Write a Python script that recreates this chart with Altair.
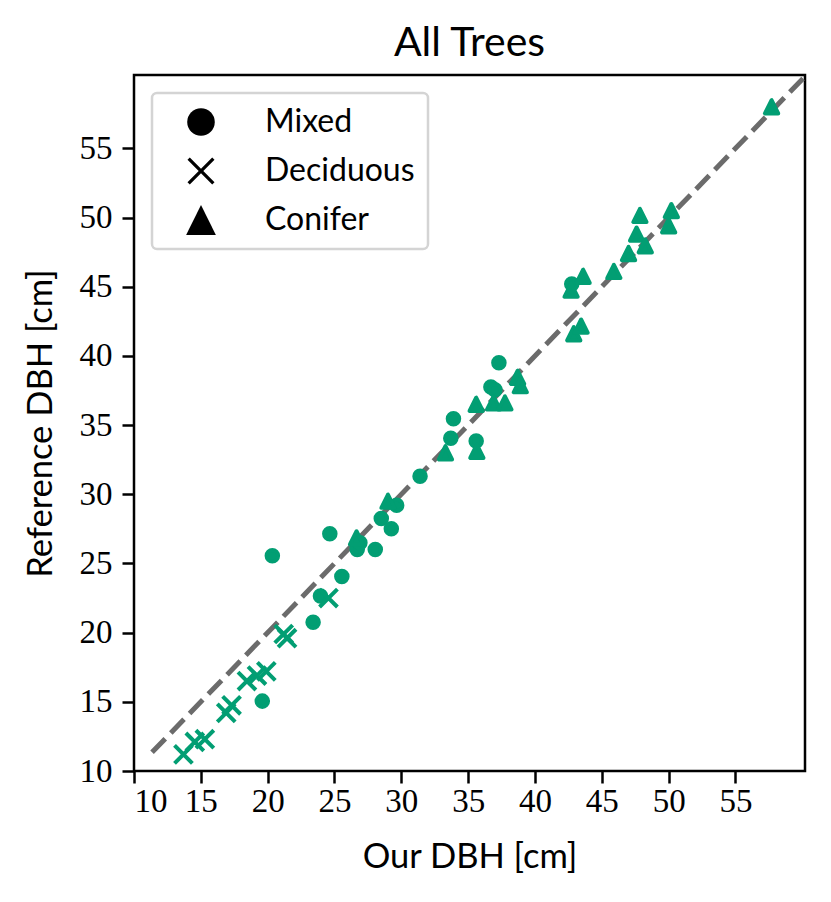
import altair as alt
import pandas as pd

# ---- data ----
mixed_x = [19.6, 20.35, 23.4, 23.95, 24.65, 25.55, 26.7, 26.9, 28.05, 28.5, 29.25, 29.65,
           31.4, 33.7, 33.9, 35.6, 36.7, 37.0, 37.3, 42.75]
mixed_y = [15.05, 25.55, 20.75, 22.65, 27.15, 24.05, 26.0, 26.5, 26.0, 28.25, 27.5, 29.2,
           31.3, 34.05, 35.45, 33.85, 37.75, 37.55, 39.5, 45.2]

decid_x = [13.7, 14.55, 15.3, 16.9, 17.3, 18.45, 19.2, 19.9, 21.2, 21.45, 24.55]
decid_y = [11.2, 12.1, 12.3, 14.2, 14.75, 16.5, 16.9, 17.2, 19.9, 19.6, 22.5]

conif_x = [26.65, 29.0, 33.3, 35.6, 35.65, 36.9, 37.75, 38.7, 38.9, 42.7, 42.9, 43.45,
           43.6, 45.9, 47.0, 47.6, 47.85, 48.25, 50.0, 50.2, 57.7]
conif_y = [26.85, 29.5, 33.0, 36.5, 33.1, 36.6, 36.6, 38.45, 37.85, 44.75, 41.6, 42.15,
           45.75, 46.1, 47.4, 48.8, 50.15, 47.95, 49.4, 50.5, 58.0]

categories = ["Mixed", "Deciduous", "Conifer"]
tick_values = [10, 15, 20, 25, 30, 35, 40, 45, 50, 55]
identity_line = [11.35, 61.0]

# ---- build tables ----
rows = []
for cat, xs_, ys_ in zip(categories, [mixed_x, decid_x, conif_x], [mixed_y, decid_y, conif_y]):
    for a, b in zip(xs_, ys_):
        rows.append({"our": a, "ref": b, "type": cat})
df = pd.DataFrame(rows)
line_df = pd.DataFrame({"our": identity_line, "ref": identity_line})

GREEN = "#029E73"
SANS = "Lato"
SERIF = "Liberation Serif"

# marker paths for the data (stroked + filled)
X_PATH = "M-1.55,-1.55L1.55,1.55M-1.55,1.55L1.55,-1.55"
TRI_PATH = "M0,-1.15L-1.15,1.15L1.15,1.15Z"


def x_polygon(k, e):
    pts = [(-1, -1 + e), (-1 + e, -1), (0, -e), (1 - e, -1), (1, -1 + e), (e, 0),
           (1, 1 - e), (1 - e, 1), (0, e), (-1 + e, 1), (-1, 1 - e), (-e, 0)]
    return "M" + "L".join(f"{k*a:.3f},{k*b:.3f}" for a, b in pts) + "Z"


# marker paths for the legend (filled only)
X_LEG = x_polygon(0.98, 0.17)
TRI_LEG = "M0,-1.08L-1.08,1.08L1.08,1.08Z"

xscale = alt.Scale(domain=[10, 60.2], nice=False, zero=False)
yscale = alt.Scale(domain=[10, 60.3], nice=False, zero=False)

axis_common = dict(
    values=tick_values, tickSize=12, tickWidth=2.5, tickColor="black",
    labelFont=SERIF, labelFontSize=33, labelColor="black",
    domain=False, grid=False,
    titleFont=SANS, titleFontSize=34.5, titleFontWeight="normal", titleColor="black",
)

xaxis = alt.Axis(title="Our DBH [cm]", labelPadding=2, titlePadding=22, **axis_common)
yaxis = alt.Axis(title="Reference DBH [cm]", labelPadding=10, titlePadding=21, **axis_common)

X = alt.X("our:Q", scale=xscale, axis=xaxis)
Y = alt.Y("ref:Q", scale=yscale, axis=yaxis)

line = alt.Chart(line_df).mark_line(
    color="#6b6b6b", strokeWidth=5, strokeDash=[19, 8], clip=True
).encode(x=X, y=Y)

points = alt.Chart(df).mark_point(
    filled=True, fill=GREEN, stroke=GREEN, strokeWidth=4, opacity=1, size=133,
    strokeJoin="round",
).encode(
    x=X, y=Y,
    shape=alt.Shape(
        "type:N",
        scale=alt.Scale(domain=categories, range=["circle", X_PATH, TRI_PATH]),
        legend=None,
    ),
)

# legend-only layer (no rows drawn), black symbols
legend_layer = alt.Chart(df).transform_filter("false").mark_point(
    filled=True, fill="black", stroke="black", strokeWidth=0, opacity=1, size=760,
).encode(
    x=X, y=Y,
    shape=alt.Shape(
        "type:N",
        scale=alt.Scale(domain=categories, range=["circle", X_LEG, TRI_LEG]),
        legend=alt.Legend(
            title=None, orient="none", legendX=18, legendY=18,
            padding=13, symbolOffset=20, labelOffset=48, rowPadding=17,
            symbolSize=760, symbolFillColor="black", symbolStrokeColor="black",
            symbolStrokeWidth=0, symbolOpacity=1,
            labelFont=SANS, labelFontSize=32, labelColor="black",
            strokeColor="#d4d4d4", fillColor="white", cornerRadius=5,
        ),
    ),
)

chart = alt.layer(line, points, legend_layer).resolve_scale(
    shape="independent"
).resolve_legend(
    shape="independent"
).properties(
    width=671, height=696,
    title=alt.TitleParams("All Trees", font=SANS, fontSize=41, fontWeight="normal",
                          color="black", offset=10, anchor="middle"),
    autosize=alt.AutoSizeParams(type="none"),
    padding={"left": 126, "top": 67, "right": 18, "bottom": 120},
).configure_view(
    stroke="black", strokeWidth=2.5
).configure_legend(
    strokeWidth=2.5
)

chart.save("out.html", embed_options={"renderer": "svg", "actions": False})
